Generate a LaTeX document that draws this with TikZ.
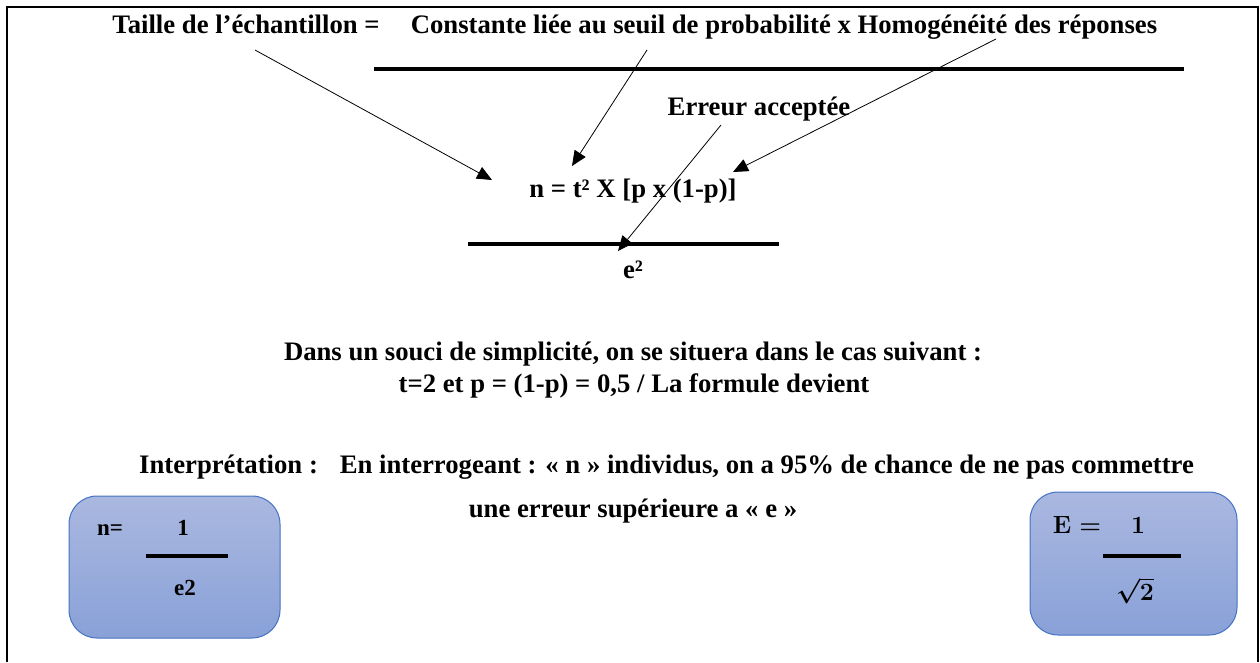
\documentclass[tikz,border=0pt]{standalone}
\usepackage{fontspec}
\setmainfont{Liberation Serif}
\usetikzlibrary{arrows.meta}
\definecolor{boxtop}{RGB}{170,184,224}
\definecolor{boxbot}{RGB}{137,161,216}
\definecolor{boxedge}{RGB}{68,114,196}
\begin{document}
\begin{tikzpicture}[x=1pt,y=-1pt,
  txt/.style={font=\fontsize{26.7}{30}\selectfont\bfseries, inner sep=0pt, anchor=base},
  btxt/.style={font=\fontsize{23}{28}\selectfont\bfseries, inner sep=0pt, anchor=base},
  mtxt/.style={font=\fontsize{24}{28}\selectfont\boldmath, inner sep=0pt, anchor=base},
  rulebar/.style={line width=4pt},
  frameline/.style={line width=2pt},
  arr/.style={line width=0.8pt, -{Triangle[length=15pt,width=13pt]}},
  roundbox/.style={rounded corners=28pt, draw=boxedge, line width=1pt,
    top color=boxtop, bottom color=boxbot, inner sep=0pt}
]
\useasboundingbox (0,0) rectangle (1260,662);

% frame
\coordinate (fbl) at (7,662);
\coordinate (ftl) at (7,7);
\coordinate (ftr) at (1258,7);
\coordinate (fbr) at (1258,662);
\draw[frameline] (fbl) -- (ftl) -- (ftr) -- (fbr);

% texts
\node[txt] (taille) at (246,33) {Taille de l’échantillon =};
\node[txt] (const) at (784,33) {Constante liée au seuil de probabilité x Homogénéité des réponses};
\node[txt] (erreur) at (759,115) {Erreur acceptée};
\node[txt] (formule) at (633,197) {n = t² X [p x (1-p)]};
\node[txt] (esq) at (633,278) {e²};
\node[txt] (dans) at (633,360) {Dans un souci de simplicité, on se situera dans le cas suivant :};
\node[txt] (tdeux) at (634,392) {t=2 et p = (1-p) = 0,5 / La formule devient};
\node[txt, anchor=base west] (interp) at (139,473) {Interprétation :\hspace{13pt} En interrogeant : « n » individus, on a 95\% de chance de ne pas commettre};
\node[txt] (une) at (633,517) {une erreur supérieure a « e »};

% fraction bars
\coordinate (r1a) at (374,69);
\coordinate (r1b) at (1184,69);
\draw[rulebar] (r1a) -- (r1b);
\coordinate (r2a) at (468,244);
\coordinate (r2b) at (779,244);
\draw[rulebar] (r2a) -- (r2b);

% arrows
\coordinate (a1s) at (255,50);
\coordinate (a1e) at (492,180);
\draw[arr] (a1s) -- (a1e);
\coordinate (a2s) at (647,50);
\coordinate (a2e) at (572,166);
\draw[arr] (a2s) -- (a2e);
\coordinate (a3s) at (996,39);
\coordinate (a3e) at (733,172);
\draw[arr] (a3s) -- (a3e);
\coordinate (a4s) at (721,125);
\coordinate (a4e) at (618,251);
\draw[arr] (a4s) -- (a4e);

% left box
\node[roundbox, minimum width=211pt, minimum height=142pt] (boxn) at (174.5,567) {};
\node[btxt] (neq) at (110,535) {n=};
\node[btxt] (none) at (183,535) {1};
\coordinate (b1a) at (146,556);
\coordinate (b1b) at (228,556);
\draw[rulebar] (b1a) -- (b1b);
\node[btxt] (ntwo) at (185,595) {e2};

% right box
\node[roundbox, minimum width=207pt, minimum height=143pt] (boxe) at (1133.5,563.5) {};
\node[mtxt] (eeq) at (1077,533) {$\mathbf{E} =$};
\node[mtxt] (eone) at (1138,533) {$\mathbf{1}$};
\coordinate (b2a) at (1103,556);
\coordinate (b2b) at (1181,556);
\draw[rulebar] (b2a) -- (b2b);
\node[mtxt] (esqrt) at (1135,600) {$\sqrt{\mathbf{2}}$};
\end{tikzpicture}
\end{document}
